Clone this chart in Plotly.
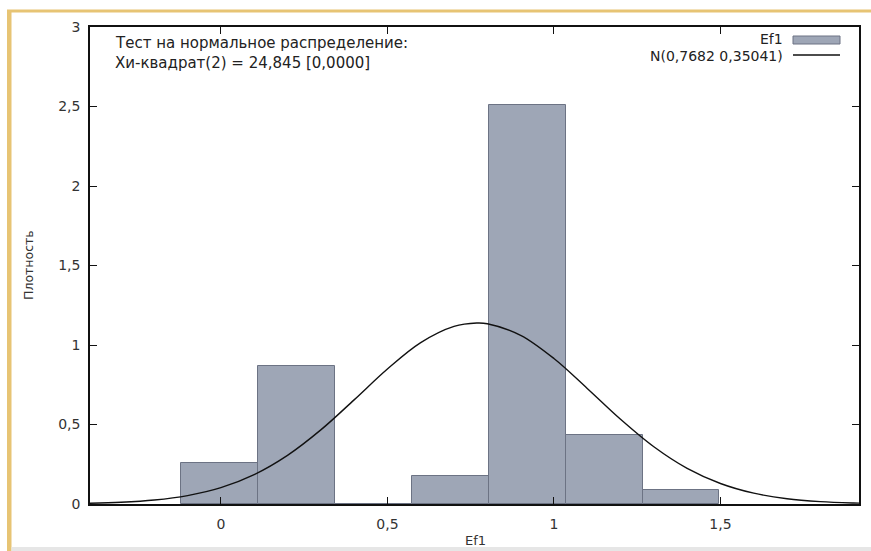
import plotly.graph_objects as go

# ---- data ----
bin_centers = [-0.0045, 0.2265, 0.4575, 0.6885, 0.9195, 1.1505, 1.3815]
bin_width = 0.231
densities = [0.26, 0.865, 0.0, 0.173, 2.509, 0.433, 0.087]

curve_x = [-0.4, -0.3, -0.2, -0.1, 0.0, 0.1, 0.2, 0.3, 0.4, 0.5, 0.6, 0.7, 0.7682,
           0.8, 0.9, 1.0, 1.1, 1.2, 1.3, 1.4, 1.5, 1.6, 1.7, 1.8, 1.9, 1.95]
curve_y = [0.0044, 0.0109, 0.025, 0.053, 0.103, 0.185, 0.306, 0.466, 0.655, 0.849,
           1.015, 1.117, 1.1385, 1.134, 1.061, 0.915, 0.727, 0.533, 0.360, 0.224,
           0.129, 0.068, 0.033, 0.015, 0.0062, 0.004]

x_ticks = [0, 0.5, 1, 1.5]
x_tick_labels = ["0", "0,5", "1", "1,5"]
y_ticks = [0, 0.5, 1, 1.5, 2, 2.5, 3]
y_tick_labels = ["0", "0,5", "1", "1,5", "2", "2,5", "3"]

series_name = "Ef1"
normal_name = "N(0,7682 0,35041)"
x_title = "Ef1"
y_title = "Плотность"
test_lines = ["Тест на нормальное распределение:", "Хи-квадрат(2) = 24,845 [0,0000]"]

# ---- layout geometry (pixels) ----
W, H = 871, 551
L, R, T, B = 90, 859, 27, 504


def px(xp):
    return (xp - L) / (R - L)


def py(yp):
    return (B - yp) / (B - T)


FONT = "DejaVu Sans"
BAR_FILL = "#9ea6b6"
BAR_LINE = "#6c7384"
TXT = "#333333"

fig = go.Figure()
fig.add_trace(go.Bar(
    x=bin_centers, y=densities, width=[bin_width] * len(bin_centers),
    marker=dict(color=BAR_FILL, line=dict(color=BAR_LINE, width=1)),
    name=series_name, showlegend=False,
))
fig.add_trace(go.Scatter(
    x=curve_x, y=curve_y, mode="lines", line=dict(color="#111111", width=1.4, shape="spline"),
    name=normal_name, showlegend=False,
))

shapes = []
# page decorations: gold border lines and grey bottom band
shapes.append(dict(type="rect", xref="paper", yref="paper", x0=px(7), x1=px(11.5), y0=py(551), y1=py(10),
                   fillcolor="#e7c474", line=dict(width=0), layer="below"))
shapes.append(dict(type="rect", xref="paper", yref="paper", x0=px(7), x1=px(871), y0=py(12.5), y1=py(9.5),
                   fillcolor="#e7c474", line=dict(width=0), layer="below"))
shapes.append(dict(type="rect", xref="paper", yref="paper", x0=px(11.5), x1=px(871), y0=py(551), y1=py(547),
                   fillcolor="#e6e6e6", line=dict(width=0), layer="below"))
# legend keys
shapes.append(dict(type="rect", xref="paper", yref="paper", x0=px(793), x1=px(840), y0=py(44), y1=py(36),
                   fillcolor=BAR_FILL, line=dict(color=BAR_LINE, width=1)))
shapes.append(dict(type="line", xref="paper", yref="paper", x0=px(793), x1=px(840), y0=py(55), y1=py(55),
                   line=dict(color="#111111", width=1.4)))

ANN_SIZE = 15
LEG_SIZE = 14
annotations = [
    dict(xref="paper", yref="paper", x=px(113), y=py(43), xanchor="left", yanchor="middle",
         text=test_lines[0], showarrow=False, font=dict(family=FONT, size=ANN_SIZE, color="#222222")),
    dict(xref="paper", yref="paper", x=px(113), y=py(62.5), xanchor="left", yanchor="middle",
         text=test_lines[1], showarrow=False, font=dict(family=FONT, size=ANN_SIZE, color="#222222")),
    dict(xref="paper", yref="paper", x=px(785), y=py(38.5), xanchor="right", yanchor="middle",
         text=series_name, showarrow=False, font=dict(family=FONT, size=LEG_SIZE, color="#222222")),
    dict(xref="paper", yref="paper", x=px(785), y=py(56), xanchor="right", yanchor="middle",
         text=normal_name, showarrow=False, font=dict(family=FONT, size=LEG_SIZE, color="#222222")),
    # axis titles
    dict(xref="paper", yref="paper", x=px(475), y=py(540), xanchor="center", yanchor="middle",
         text=x_title, showarrow=False, font=dict(family=FONT, size=13, color=TXT)),
    dict(xref="paper", yref="paper", x=px(28), y=py(265), xanchor="center", yanchor="middle",
         text=y_title, textangle=-90, showarrow=False, font=dict(family=FONT, size=12.5, color=TXT)),
]

fig.update_layout(
    width=W, height=H,
    margin=dict(l=L, r=W - R, t=T, b=H - B, autoexpand=False),
    paper_bgcolor="white", plot_bgcolor="white",
    bargap=0, showlegend=False,
    font=dict(family=FONT, size=14, color=TXT),
    shapes=shapes, annotations=annotations,
    xaxis=dict(
        range=[-0.393, 1.916], tickvals=x_ticks, ticktext=x_tick_labels,
        ticks="inside", ticklen=7, tickcolor="#111111", tickwidth=1,
        showline=True, linecolor="#111111", linewidth=1.5, mirror="ticks",
        showgrid=False, zeroline=False, ticklabelstandoff=6, automargin=False,
        tickfont=dict(family=FONT, size=14, color=TXT),
    ),
    yaxis=dict(
        range=[0, 3], tickvals=y_ticks, ticktext=y_tick_labels,
        ticks="inside", ticklen=7, tickcolor="#111111", tickwidth=1,
        showline=True, linecolor="#111111", linewidth=1.5, mirror="ticks",
        showgrid=False, zeroline=False, ticklabelstandoff=5, automargin=False,
        tickfont=dict(family=FONT, size=14, color=TXT),
    ),
)

fig.write_html("out.html")
